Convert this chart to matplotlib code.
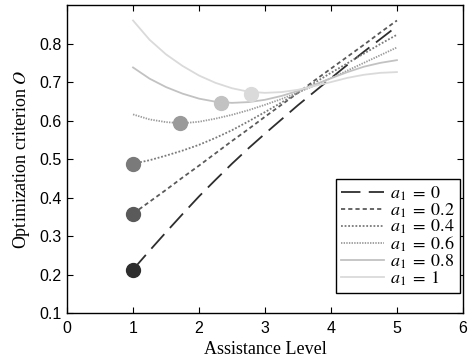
import numpy as np
import matplotlib
matplotlib.use("Agg")
import matplotlib.pyplot as plt

plt.rcParams["mathtext.fontset"] = "stix"
plt.rcParams["lines.scale_dashes"] = False

# assistance levels sampled along each curve
x = [1.0, 1.25, 1.5, 1.75, 2.0, 2.25, 2.5, 2.75, 3.0,
     3.25, 3.5, 3.75, 4.0, 4.25, 4.5, 4.75, 5.0]

# optimization criterion, one list per a1
O_a0 = [0.213, 0.262, 0.310, 0.357, 0.403, 0.446, 0.488, 0.528, 0.566,
        0.603, 0.640, 0.675, 0.710, 0.745, 0.779, 0.812, 0.845]
O_a02 = [0.358, 0.389, 0.420, 0.452, 0.483, 0.515, 0.547, 0.578, 0.610,
         0.641, 0.672, 0.704, 0.735, 0.766, 0.797, 0.829, 0.860]
O_a04 = [0.488, 0.497, 0.509, 0.522, 0.537, 0.555, 0.575, 0.598, 0.622,
         0.647, 0.672, 0.698, 0.724, 0.749, 0.774, 0.799, 0.823]
O_a06 = [0.616, 0.603, 0.596, 0.593, 0.597, 0.605, 0.615, 0.627, 0.641,
         0.656, 0.673, 0.691, 0.710, 0.730, 0.750, 0.770, 0.790]
O_a08 = [0.738, 0.709, 0.687, 0.670, 0.657, 0.649, 0.646, 0.648, 0.654,
         0.664, 0.677, 0.693, 0.710, 0.726, 0.740, 0.750, 0.757]
O_a1 = [0.860, 0.810, 0.772, 0.742, 0.717, 0.698, 0.684, 0.675, 0.672,
        0.674, 0.680, 0.690, 0.700, 0.711, 0.719, 0.724, 0.726]

# optimum marked on each curve
opt_x = [1.0, 1.0, 1.0, 1.71, 2.33, 2.79]
opt_y = [0.213, 0.358, 0.488, 0.593, 0.645, 0.670]

labels = ["$a_1\\;=\\;0$", "$a_1\\;=\\;0.2$", "$a_1\\;=\\;0.4$",
          "$a_1\\;=\\;0.6$", "$a_1\\;=\\;0.8$", "$a_1\\;=\\;1$"]
series = [O_a0, O_a02, O_a04, O_a06, O_a08, O_a1]
colors = ["#2e2e2e", "#5a5a5a", "#7a7a7a", "#9a9a9a", "#c2c2c2", "#dadada"]
dashes = [(14, 6), (3, 2.2), (1.3, 1.3), (1.0, 0.9), None, None]

fig = plt.figure(figsize=(4.69, 3.64), dpi=100)
ax = fig.add_axes([0.143, 0.14, 0.844, 0.846])

for ys, c, d, lab in zip(series, colors, dashes, labels):
    if d is None:
        ax.plot(x, ys, color=c, lw=1.3, label=lab)
    else:
        ax.plot(x, ys, color=c, lw=1.3, dashes=d, label=lab)

for px, py, c in zip(opt_x, opt_y, colors):
    ax.plot(px, py, "o", color=c, markersize=10, markeredgecolor=c, zorder=3)

ax.set_xlim(0, 6)
ax.set_ylim(0.1, 0.9)
ax.set_xticks([0, 1, 2, 3, 4, 5, 6])
ax.set_yticks([0.1, 0.2, 0.3, 0.4, 0.5, 0.6, 0.7, 0.8])
ax.tick_params(direction="in", top=True, right=True, length=4, labelsize=11.5)
ax.tick_params(axis="x", pad=6)
ax.tick_params(axis="y", pad=4)
for lab in ax.get_xticklabels() + ax.get_yticklabels():
    lab.set_family("Liberation Sans")
for sp in ax.spines.values():
    sp.set_linewidth(1.0)

ax.set_xlabel("Assistance Level", family="Liberation Serif", fontsize=13, labelpad=3)
ax.set_ylabel("Optimization criterion $O$", family="Liberation Serif", fontsize=13, labelpad=5)

leg = ax.legend(loc="lower right", bbox_to_anchor=(0.993, 0.065), borderaxespad=0,
                fontsize=13, handlelength=2.4, handletextpad=0.3,
                labelspacing=-0.09, borderpad=0.3, fancybox=False,
                framealpha=1, edgecolor="black")
leg.get_frame().set_linewidth(1.0)
for t in leg.get_texts():
    t.set_family("Liberation Serif")

fig.savefig("out.png", dpi=100)
